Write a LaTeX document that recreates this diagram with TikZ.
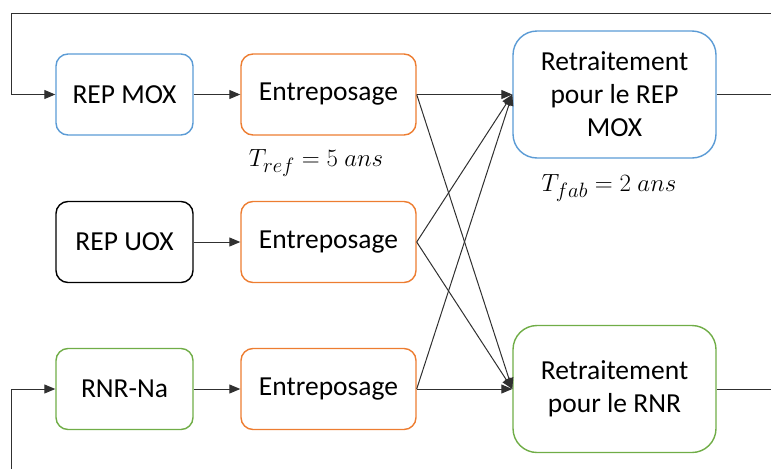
\documentclass[tikz,border=0pt]{standalone}
\usepackage{fontspec}
\setmainfont{Carlito}
\usetikzlibrary{arrows.meta}
\definecolor{cblue}{HTML}{5B9BD5}
\definecolor{corange}{HTML}{ED7D31}
\definecolor{cgreen}{HTML}{70AD47}
\definecolor{cline}{HTML}{303030}
\begin{document}
\begin{tikzpicture}[x=1pt,y=-1pt,
  box/.style={draw, line width=1.4pt, rounded corners=12pt, minimum width=137pt, minimum height=81pt, inner sep=0pt, font=\fontsize{27.5}{33}\selectfont, align=center},
  ebox/.style={box, draw=corange, minimum width=175pt},
  bigbox/.style={box, rounded corners=24pt, minimum width=203pt, minimum height=127pt},
  conn/.style={draw=cline, line width=1pt},
  arr/.style={conn, -{Triangle[length=11pt,width=9pt]}},
  lab/.style={font=\fontsize{28}{32}\selectfont}
]
\useasboundingbox (0,0) rectangle (771,469);
\node[box, draw=cblue] (repmox) at (124.5,94.5) {REP MOX};
\node[box, draw=black] (repuox) at (124.5,242) {REP UOX};
\node[box, draw=cgreen] (rnrna) at (124.5,389) {RNR-Na};
\node[ebox] (e1) at (328.5,94.5) {Entreposage};
\node[ebox] (e2) at (328.5,242) {Entreposage};
\node[ebox] (e3) at (328.5,389) {Entreposage};
\node[bigbox, draw=cblue] (retmox) at (614.5,94.5) {Retraitement\\pour le REP\\MOX};
\node[bigbox, draw=cgreen] (retrnr) at (614.5,389) {Retraitement\\pour le RNR};
\node[lab] (tref) at (316,163) {$T_{ref}=5\ ans$};
\node[lab] (tfab) at (609,188) {$T_{fab}=2\ ans$};
\coordinate (tr) at (771,13);
\coordinate (tl) at (11,13);
\coordinate (bl) at (11,469);
\coordinate (r1) at (771,94.5);
\coordinate (r3) at (771,389);
\draw[arr] (tr) -- (tl) |- (repmox.west);
\draw[arr] (bl) |- (rnrna.west);
\draw[conn] (retmox.east) -- (r1);
\draw[conn] (retrnr.east) -- (r3);
\draw[arr] (repmox) -- (e1);
\draw[arr] (repuox) -- (e2);
\draw[arr] (rnrna) -- (e3);
\foreach \s in {e1,e2,e3}{
  \draw[arr] (\s.east) -- (retmox.west);
  \draw[arr] (\s.east) -- (retrnr.west);
}
\end{tikzpicture}
\end{document}
